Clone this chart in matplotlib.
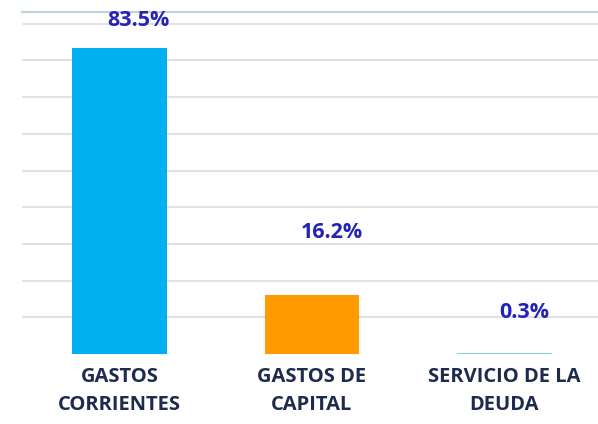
import matplotlib
matplotlib.use("Agg")
import matplotlib.pyplot as plt

# distribución del gasto (%)
categorias = ["GASTOS\nCORRIENTES", "GASTOS DE\nCAPITAL", "SERVICIO DE LA\nDEUDA"]
porcentajes = [83.5, 16.2, 0.3]

colores = ["#00B0F0", "#FF9A00", "#86CFDA"]
# desplazamiento vertical de cada etiqueta (puntos)
etiqueta_dy = [19.5, 45, 29]

plt.rcParams["font.family"] = ["Open Sans", "DejaVu Sans"]

fig = plt.figure(figsize=(5.98, 4.24), dpi=100)
ax = fig.add_axes([22 / 598, 70 / 424, 1 - 22 / 598, (354 - 12) / 424])

x = range(len(categorias))
barras = ax.bar(x, porcentajes, width=0.49, color=colores, zorder=3)

for i, (b, v) in enumerate(zip(barras, porcentajes)):
    ax.annotate(f"{v:.1f}%", (b.get_x() + b.get_width() / 2, v),
                xytext=(14, etiqueta_dy[i]), textcoords="offset points",
                ha="center", va="center", fontsize=15.5, fontweight="bold",
                color="#2323B8")

ax.set_xlim(-0.506, 2.486)
ax.set_ylim(0, 93.2)
ax.set_yticks(range(10, 100, 10))
ax.yaxis.grid(True, color="#E2E2E2", linewidth=1.5, zorder=0)
ax.tick_params(axis="y", left=False, labelleft=False)
ax.tick_params(axis="x", bottom=False, pad=6)
ax.set_xticks(list(x))
ax.set_xticklabels(categorias, fontsize=14.5, fontweight="bold",
                   color="#1E2B4D", linespacing=1.55)

for lado in ["left", "right", "bottom"]:
    ax.spines[lado].set_visible(False)
ax.spines["top"].set_color("#BFD0DD")
ax.spines["top"].set_linewidth(1.5)

fig.savefig("out.png", dpi=100)
